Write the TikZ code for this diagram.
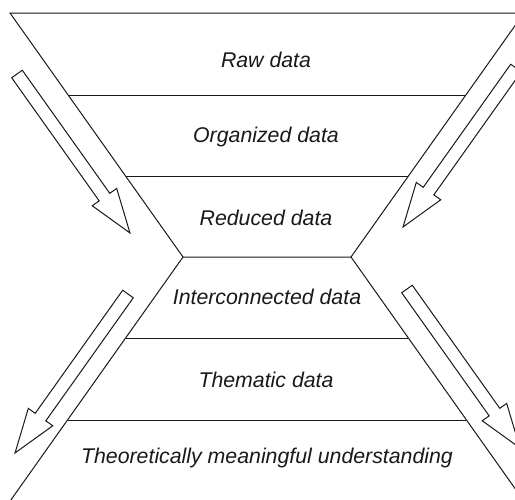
\documentclass[tikz,border=0pt]{standalone}
\usepackage{fontspec}
\setmainfont{Liberation Sans}
\usetikzlibrary{calc}

\tikzset{
  funnel/.style={line width=1pt, draw=black!90},
  layertext/.style={font=\itshape\fontsize{21.3}{25}\selectfont, text=black!90, inner sep=0pt},
  flow arrow/.pic={\draw[funnel, fill=white] (0,-6.5) -- (151,-6.5) -- (151,-15) -- (195,0) -- (151,15) -- (151,6.5) -- (0,6.5) -- cycle;}
}

\begin{document}
\begin{tikzpicture}[x=1pt, y=-1pt]
\clip (0,0) rectangle (515,499);
% funnel outline
\draw[funnel] (183,257) -- (10,13) -- (524,13) -- (351,257) -- cycle;
\draw[funnel] (183,257) -- (8,504);
\draw[funnel] (351,257) -- (526,504);
% layer borders
\draw[funnel] (68,95) -- (466,95);
\draw[funnel] (126,176) -- (408,176);
\draw[funnel] (126,338) -- (408,338);
\draw[funnel] (68,420) -- (466,420);
% layer labels
\node[layertext] (raw) at (266,60) {Raw data};
\node[layertext] (organized) at (266,137) {Organized data};
\node[layertext] (reduced) at (266,218) {Reduced data};
\node[layertext] (interconnected) at (267,297) {Interconnected data};
\node[layertext] (thematic) at (266,380) {Thematic data};
\node[layertext] (theoretical) at (267,458) {Theoretically meaningful understanding};
% flow arrows
\pic[rotate=-54.6] at (17,74) {flow arrow};
\pic[rotate=-125.4] at (516,68) {flow arrow};
\pic[rotate=-125.4] at (128,294) {flow arrow};
\pic[rotate=-54.6] at (407,289) {flow arrow};
\end{tikzpicture}
\end{document}
